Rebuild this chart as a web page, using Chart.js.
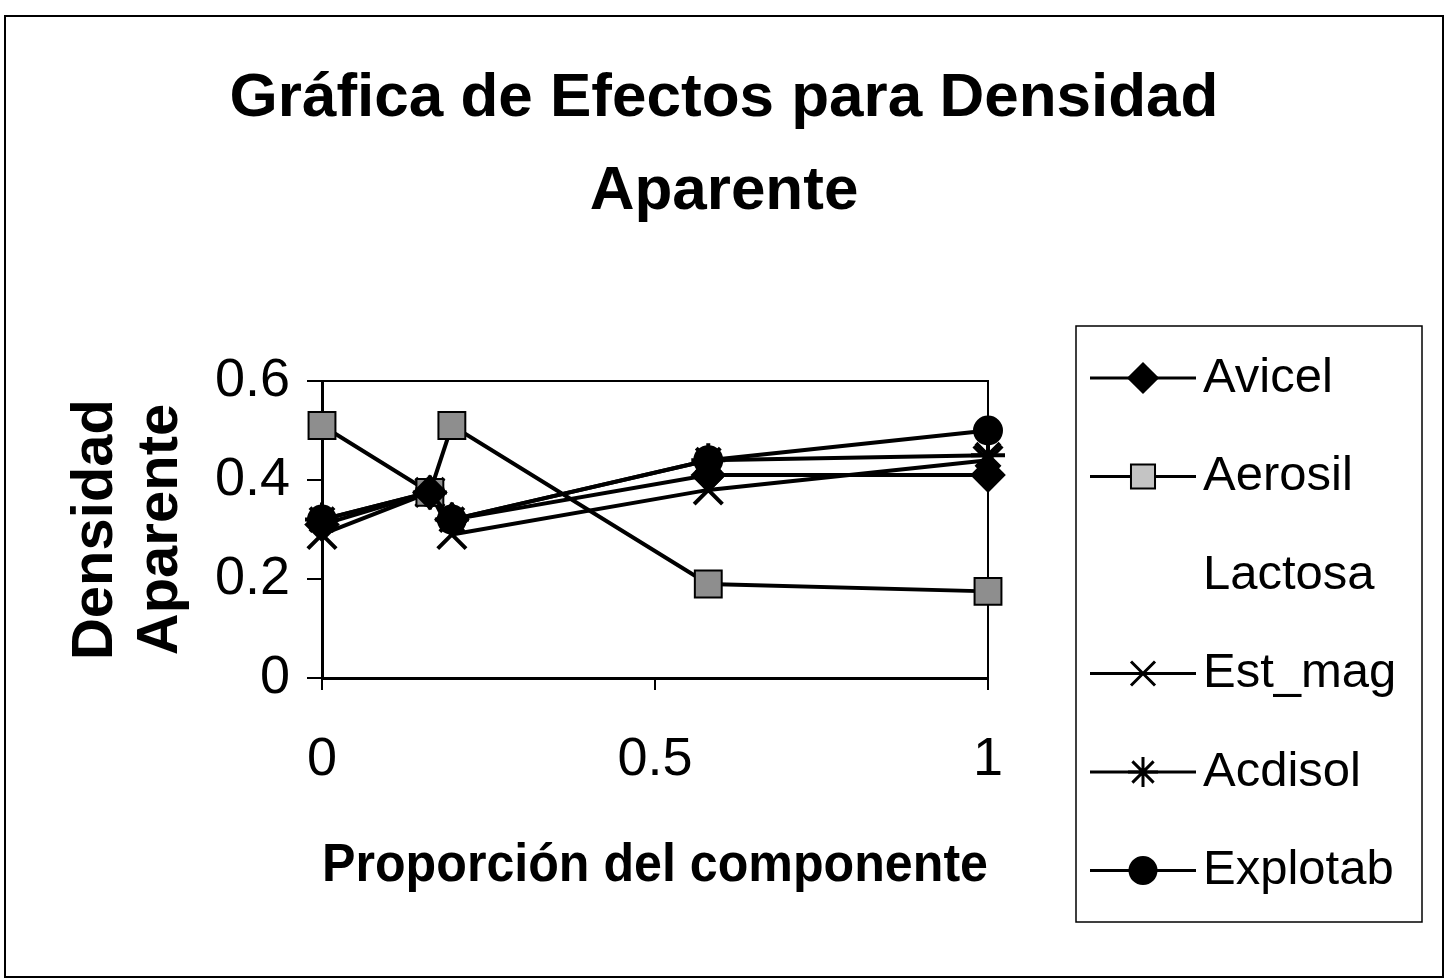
<!DOCTYPE html>
<html><head><meta charset="utf-8">
<script src="https://cdn.jsdelivr.net/npm/chart.js@4.4.1/dist/chart.umd.min.js"></script>
<style>html,body{margin:0;padding:0;background:#fff}#wrap{width:1448px;height:980px}</style>
</head><body><div id="wrap"><canvas id="c" width="1448" height="980"></canvas></div>
<script>
// ---- data ----
const titleLines = ['Gráfica de Efectos para Densidad', 'Aparente'];
const xTitle = 'Proporción del componente';
const yTitle = ['Densidad', 'Aparente'];
const proportions = [0, 0.162, 0.195, 0.58, 1];
const seriesNames = ['Avicel', 'Aerosil', 'Lactosa', 'Est_mag', 'Acdisol', 'Explotab'];
const avicel   = [0.31, 0.375, 0.32, 0.41, 0.41];
const aerosil  = [0.51, 0.375, 0.51, 0.19, 0.175];
const lactosa  = [];
const estMag   = [0.29, 0.375, 0.29, 0.38, 0.44];
const acdisol  = [0.32, 0.375, 0.32, 0.44, 0.45];
const explotab = [0.32, 0.375, 0.32, 0.44, 0.50];
const yTicks = [0, 0.2, 0.4, 0.6];
const xTicks = [0, 0.5, 1];

// ---- styles ----
const FONT = "'Liberation Sans', Arial, sans-serif";
const seriesValues = [avicel, aerosil, lactosa, estMag, acdisol, explotab];
const markerStyles = [
  {style: 'rectRot', r: 15, fill: '#000', line: true, legendR: 14},
  {style: 'rect', r: 19, fill: '#8e8e8e', line: true, legendR: 17},
  {style: 'circle', r: 0, fill: '#000', line: false, legendR: 0},
  {style: 'crossRot', r: 20, fill: '#000', line: true, legendR: 17},
  {style: 'star', r: 17, fill: '#000', line: true, legendR: 15},
  {style: 'circle', r: 13, fill: '#000', line: true, legendR: 13}
];

const datasets = seriesNames.map((name, i) => {
  const m = markerStyles[i];
  return {
    label: name,
    data: seriesValues[i].map((v, j) => ({x: proportions[j], y: v})),
    showLine: m.line,
    borderColor: '#000',
    borderWidth: 4,
    pointStyle: m.style,
    pointRadius: m.r,
    pointHoverRadius: m.r,
    pointBackgroundColor: m.fill,
    pointBorderColor: '#000',
    pointBorderWidth: m.style === 'rect' ? 2 : 4,
    clip: false
  };
});

const decorPlugin = {
  id: 'decor',
  beforeDraw(chart) {
    const ctx = chart.ctx;
    ctx.save();
    ctx.fillStyle = '#fff';
    ctx.fillRect(0, 0, chart.width, chart.height);
    ctx.strokeStyle = '#000';
    ctx.lineWidth = 2;
    ctx.strokeRect(5, 16, 1438, 961);
    ctx.restore();
  },
  beforeDatasetsDraw(chart) {
    const ctx = chart.ctx, a = chart.chartArea;
    ctx.save();
    ctx.strokeStyle = '#000';
    ctx.lineWidth = 2;
    ctx.strokeRect(a.left, a.top, a.right - a.left, a.bottom - a.top);
    ctx.restore();
  },
  afterDraw(chart) {
    const ctx = chart.ctx;
    ctx.save();
    ctx.strokeStyle = '#000';
    ctx.lineWidth = 1.5;
    ctx.strokeRect(1076, 326, 346, 596);
    chart.data.datasets.forEach((ds, i) => {
      const y = 378 + i * 98.5;
      const m = markerStyles[i];
      if (ds.showLine !== false) {
        ctx.strokeStyle = '#000';
        ctx.lineWidth = 3;
        ctx.beginPath();
        ctx.moveTo(1090, y);
        ctx.lineTo(1196, y);
        ctx.stroke();
      }
      if (ds.pointRadius > 0) {
        ctx.fillStyle = ds.pointStyle === 'rect' ? '#c4c4c4' : ds.pointBackgroundColor;
        ctx.strokeStyle = '#000';
        ctx.lineWidth = ds.pointStyle === 'rect' ? 2 : 3;
        Chart.helpers.drawPoint(ctx, {pointStyle: ds.pointStyle, radius: m.legendR, rotation: 0, borderWidth: ctx.lineWidth}, 1143, y);
      }
      ctx.fillStyle = '#000';
      ctx.font = "49px " + FONT;
      ctx.textAlign = 'left';
      ctx.textBaseline = 'middle';
      ctx.fillText(ds.label, 1203, y);
    });
    ctx.restore();
  }
};

new Chart(document.getElementById('c'), {
  type: 'scatter',
  data: {datasets},
  plugins: [decorPlugin],
  options: {
    responsive: false,
    animation: false,
    layout: {padding: {left: 0, right: 0, top: 0, bottom: 0}},
    plugins: {
      legend: {display: false},
      tooltip: {enabled: false},
      title: {
        display: true,
        text: titleLines,
        color: '#000',
        font: {family: FONT, size: 62, weight: 'bold', lineHeight: 1.5},
        padding: {top: 52, bottom: 143}
      }
    },
    scales: {
      x: {
        type: 'linear',
        min: 0, max: 1,
        afterBuildTicks: s => { s.ticks = xTicks.map(v => ({value: v})); },
        afterFit: s => { s.height = 302; },
        border: {display: true, color: '#000', width: 3},
        grid: {display: true, drawOnChartArea: false, drawTicks: true, tickLength: 12, color: '#000', lineWidth: 2},
        ticks: {color: '#000', padding: 38, font: {family: FONT, size: 54}, maxRotation: 0, callback: v => String(+v.toFixed(1))},
        title: {display: true, text: xTitle, color: '#000', font: {family: FONT, size: 53, weight: 'bold'}, padding: {top: 0, bottom: 82}}
      },
      y: {
        type: 'linear',
        min: 0, max: 0.6,
        afterBuildTicks: s => { s.ticks = yTicks.map(v => ({value: v})); },
        afterFit: s => { s.width = 322; },
        border: {display: true, color: '#000', width: 3},
        grid: {display: true, drawOnChartArea: false, drawTicks: true, tickLength: 15, color: '#000', lineWidth: 2},
        ticks: {color: '#000', padding: 17, font: {family: FONT, size: 54}, callback: v => String(+v.toFixed(1))},
        title: {display: true, text: yTitle, color: '#000', font: {family: FONT, size: 58, weight: 'bold', lineHeight: 1.12}, padding: {top: 64, bottom: 0}}
      },
      legendSpace: {
        type: 'linear',
        position: 'right',
        display: true,
        afterFit: s => { s.width = 460; },
        border: {display: false},
        grid: {display: false, drawTicks: false},
        ticks: {display: false}
      }
    }
  }
});
</script>
</body></html>
